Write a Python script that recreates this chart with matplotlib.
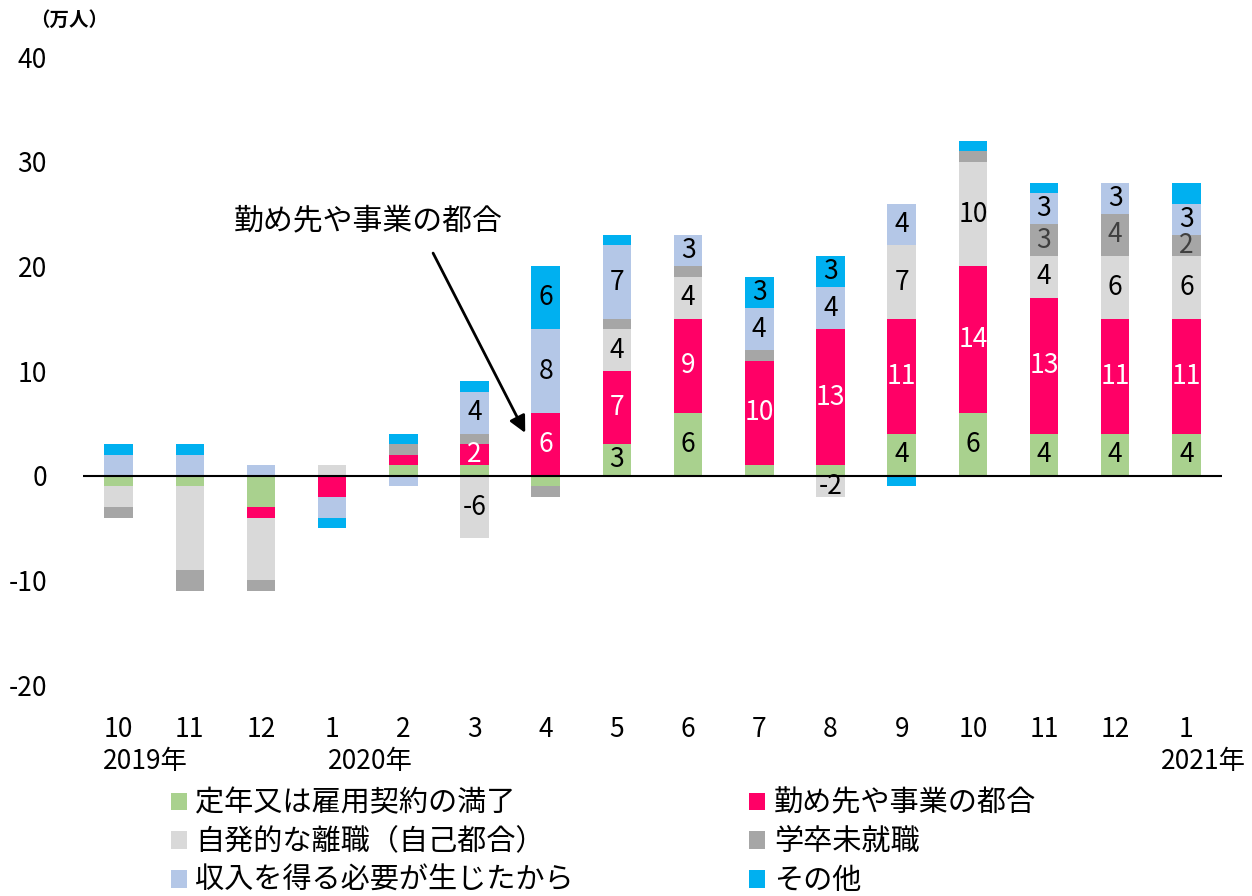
import numpy as np
import matplotlib
matplotlib.use('Agg')
import matplotlib.pyplot as plt
from matplotlib.patches import Patch

plt.rcParams['font.family'] = ['Noto Sans CJK JP', 'DejaVu Sans']
plt.rcParams['axes.unicode_minus'] = False

months = ['10', '11', '12', '1', '2', '3', '4', '5', '6', '7', '8', '9', '10', '11', '12', '1']
years = ['2019年', '2020年', '2021年']

# 万人, diff vs same month previous year
teinen = [-1, -1, -3, 0, 1, 1, -1, 3, 6, 1, 1, 4, 6, 4, 4, 4]
kaisha = [0, 0, -1, -2, 1, 2, 6, 7, 9, 10, 13, 11, 14, 13, 11, 11]
jihatsu = [-2, -8, -6, 1, 0, -6, 0, 4, 4, 0, -2, 7, 10, 4, 6, 6]
sotsugyo = [-1, -2, -1, 0, 1, 1, -1, 1, 1, 1, 0, 0, 1, 3, 4, 2]
shunyu = [2, 2, 1, -2, -1, 4, 8, 7, 3, 4, 4, 4, 0, 3, 3, 3]
sonota = [1, 1, 0, -1, 1, 1, 6, 1, 0, 3, 3, -1, 1, 1, 0, 2]

names = ['定年又は雇用契約の満了', '勤め先や事業の都合', '自発的な離職（自己都合）',
         '学卒未就職', '収入を得る必要が生じたから', 'その他']
series = [teinen, kaisha, jihatsu, sotsugyo, shunyu, sonota]
colors = ['#A9D18E', '#FF0066', '#D9D9D9', '#A6A6A6', '#B4C7E7', '#00B0F0']
label_colors = ['black', 'white', 'black', '#404040', 'black', 'black']
min_label = [2, 2, 2, 2, 2, 3]
first_labeled = 5

fig = plt.figure(figsize=(12.52, 8.96), dpi=100)
ax = fig.add_axes([83 / 1252, 1 - 685 / 896, (1222 - 83) / 1252, (685 - 57) / 896])

x = np.arange(len(months))
pos_base = np.zeros(len(months))
neg_base = np.zeros(len(months))
for s, vals in enumerate(series):
    vals = np.array(vals, dtype=float)
    bottoms = np.where(vals >= 0, pos_base, neg_base)
    ax.bar(x, vals, 0.4, bottom=bottoms, color=colors[s], edgecolor='none', zorder=2)
    for i, v in enumerate(vals):
        if i >= first_labeled and abs(v) >= min_label[s]:
            ax.text(x[i], bottoms[i] + v / 2, f'{int(v)}', ha='center', va='center',
                    fontsize=19, color=label_colors[s], zorder=3)
    pos_base += np.where(vals > 0, vals, 0)
    neg_base += np.where(vals < 0, vals, 0)

ax.axhline(0, color='black', lw=1.5, zorder=4)
ax.set_xlim(-0.5, 15.5)
ax.set_ylim(-20, 40)
ax.set_yticks(range(-20, 41, 10))
ax.set_xticks(x)
ax.set_xticklabels(months)
ax.tick_params(axis='y', length=0, pad=26, labelsize=19)
ax.tick_params(axis='x', length=0, pad=22, labelsize=19)
for sp in ax.spines.values():
    sp.set_visible(False)

# year labels under month numbers
year_pos = [0.37, 3.54, 15.24]
for yp, yl in zip(year_pos, years):
    ax.text(yp, -27.3, yl, ha='center', va='center', fontsize=19, clip_on=False)

fig.text(30 / 1252, 1 - 20 / 896, '（万人）', ha='left', va='center', fontsize=14, fontweight='bold')

ax.annotate('', xy=(5.73, 3.85), xytext=(4.40, 21.5),
            arrowprops=dict(arrowstyle='-|>', color='black', lw=2, mutation_scale=25))
ax.text(3.51, 24.3, '勤め先や事業の都合', ha='center', va='center', fontsize=21.5)

order = [0, 2, 4, 1, 3, 5]
handles = [Patch(facecolor=colors[k], edgecolor='none') for k in order]
fig.legend(handles, [names[k] for k in order], ncol=2, loc='upper left',
           bbox_to_anchor=(159 / 1252, 1 - 777 / 896), frameon=False, fontsize=21,
           handlelength=0.55, handleheight=0.55, handletextpad=0.3,
           columnspacing=6.0, labelspacing=0.3, borderaxespad=0)

fig.savefig('out.png', dpi=100)
